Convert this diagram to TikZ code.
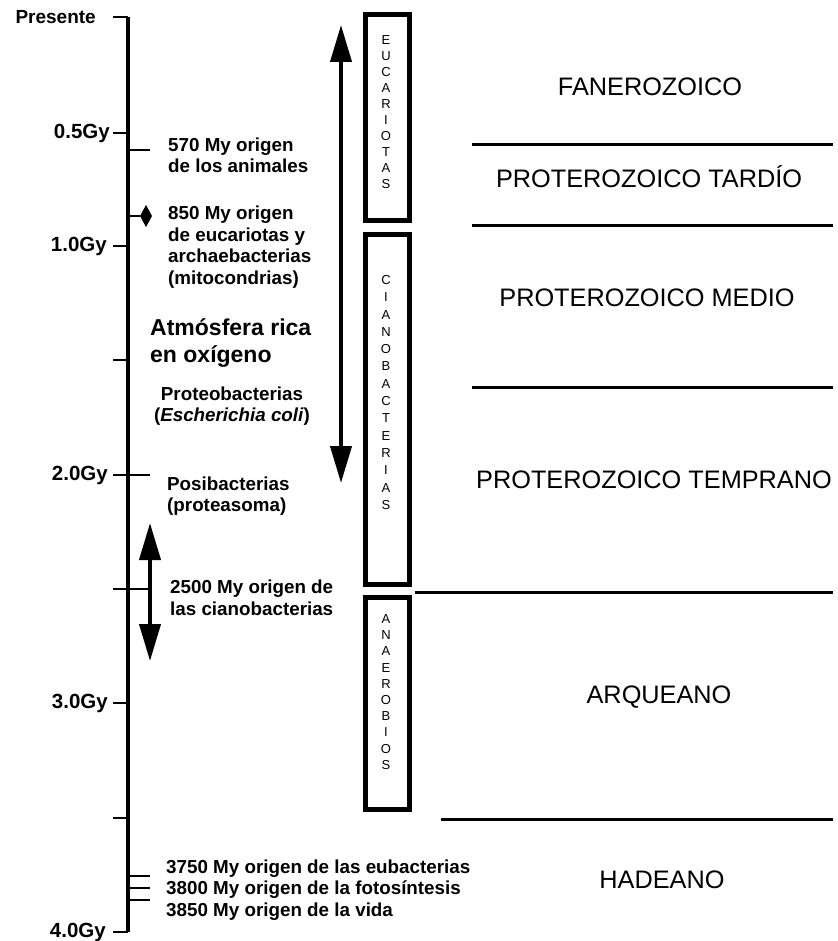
\documentclass[tikz,border=0pt]{standalone}
\usepackage{fontspec}
\setmainfont{Liberation Sans}
\usetikzlibrary{arrows.meta}

\begin{document}
\begin{tikzpicture}[x=1pt,y=-1pt,
	eje/.style={line width=3.2pt},
	marca/.style={line width=2.6pt},
	limite/.style={line width=3pt},
	caja/.style={draw,line width=5pt,inner sep=0pt},
	flecha/.style={line width=4pt,{Triangle[length=37pt,width=21pt]}-{Triangle[length=37pt,width=21pt]}},
	edad/.style={anchor=east,inner sep=0pt,font=\bfseries\fontsize{20.5}{22}\selectfont},
	nota/.style={anchor=west,inner sep=0pt,align=left,font=\bfseries\fontsize{18.8}{21.5}\selectfont},
	era/.style={inner sep=0pt,font=\fontsize{25.3}{30}\selectfont},
	letra/.style={inner sep=0pt,font=\fontsize{13}{13}\selectfont}]
	\useasboundingbox (0,0) rectangle (837,941);

	% eje del tiempo
	\draw[eje](128,17)--(128,932);
	\foreach \y in {17,133,246,360,475,589,703,818,932} {
	     \draw[marca] (113,\y) -- (128,\y);
	}
	\foreach \y in {150,475,589,876,888,900} {
	     \draw[marca] (128,\y) -- (150,\y);
	}
	\draw[marca] (128,216) -- (140,216);
	\fill (140,216) -- (146,205) -- (152,216) -- (146,227) -- cycle;

	\node[edad,font=\bfseries\fontsize{19}{22}\selectfont] (presente) at (96,17) {Presente};
	\node[edad] (g05) at (110,133) {0.5Gy};
	\node[edad] (g10) at (107,246) {1.0Gy};
	\node[edad] (g20) at (108,475) {2.0Gy};
	\node[edad] (g30) at (108,703) {3.0Gy};
	\node[edad] (g40) at (106,932) {4.0Gy};

	% textos
	\node[nota] (animales) at (168,155.5) {570 My origen\\de los animales};
	\node[nota] (eucariotas) at (168,247) {850 My origen\\de eucariotas y\\archaebacterias\\(mitocondrias)};
	\node[nota,font=\bfseries\fontsize{23}{28}\selectfont] (atmosfera) at (150,343) {Atmósfera rica\\en oxígeno};
	\node[nota,anchor=center,align=center] (proteo) at (232,406) {Proteobacterias\\(\textit{Escherichia coli})};
	\node[nota] (posi) at (167,496) {Posibacterias\\(proteasoma)};
	\node[nota] (ciano) at (170,598) {2500 My origen de\\las cianobacterias};
	\node[nota] (vida) at (166,890) {3750 My origen de las eubacterias\\3800 My origen de la fotosíntesis\\3850 My origen de la vida};

	% flechas
	\coordinate (fl1a) at (150,523);
	\coordinate (fl1b) at (150,661);
	\coordinate (fl2a) at (341,25);
	\coordinate (fl2b) at (341,483);
	\draw[flecha] (fl1a) -- (fl1b);
	\draw[flecha] (fl2a) -- (fl2b);

	% cajas
	\node[caja,minimum width=44pt,minimum height=206pt] (cajaeuca) at (387.5,117.5) {};
	\node[caja,minimum width=44pt,minimum height=350pt] (cajaciano) at (387.5,409.5) {};
	\node[caja,minimum width=44pt,minimum height=212pt] (cajaanae) at (387.5,703.5) {};
	\foreach \l [count=\i] in {E,U,C,A,R,I,O,T,A,S} {
	     \node[letra] (euca\i) at (386,{40+16*(\i-1)}) {\l};
	}
	\foreach \l [count=\i] in {C,I,A,N,O,B,A,C,T,E,R,I,A,S} {
	     \node[letra] (ciano\i) at (386,{280+17.3*(\i-1)}) {\l};
	}
	\foreach \l [count=\i] in {A,N,A,E,R,O,B,I,O,S} {
	     \node[letra] (anae\i) at (386,{619+16.2*(\i-1)}) {\l};
	}

	% eras
	\draw[limite] (472,145) -- (833,145);
	\draw[limite] (472,226) -- (833,226);
	\draw[limite] (472,387) -- (833,387);
	\draw[limite] (415,592) -- (833,592);
	\draw[limite] (441,819) -- (833,819);

	\node[era] (fanero) at (650,87) {FANEROZOICO};
	\node[era] (tardio) at (649,177) {PROTEROZOICO TARDÍO};
	\node[era] (medio) at (647,298) {PROTEROZOICO MEDIO};
	\node[era] (temprano) at (654,480) {PROTEROZOICO TEMPRANO};
	\node[era] (arqueano) at (659,697) {ARQUEANO};
	\node[era] (hadeano) at (662,880) {HADEANO};
\end{tikzpicture}
\end{document}
